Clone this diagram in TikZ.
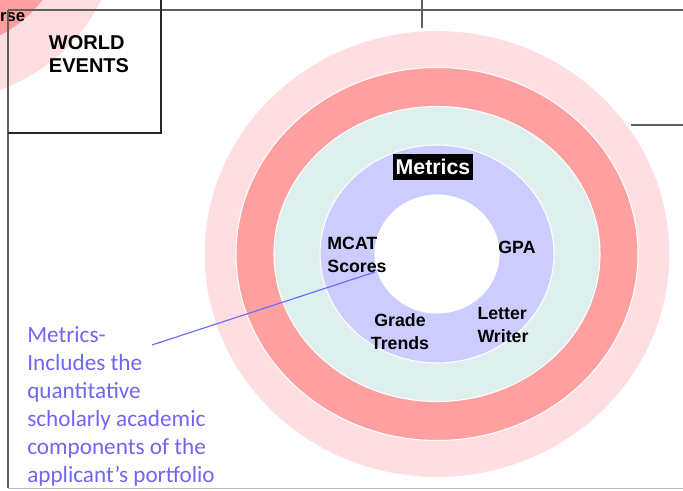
\documentclass[tikz,border=0pt]{standalone}
\usepackage{fontspec}
\setmainfont{Liberation Sans}
\newfontfamily\calib{Carlito}
\definecolor{ringPink}{RGB}{255,222,225}
\definecolor{ringRed}{RGB}{255,160,160}
\definecolor{ringTeal}{RGB}{222,240,238}
\definecolor{ringLav}{RGB}{204,204,255}
\definecolor{noteBlue}{RGB}{112,102,240}
\definecolor{lineBlue}{RGB}{110,110,255}
\definecolor{frameGray}{RGB}{95,95,95}
\definecolor{lightGray}{RGB}{190,190,190}
\begin{document}
\begin{tikzpicture}[x=0.75pt,y=-0.75pt,
  ring/.style={draw=white,line width=0.8pt},
  frame/.style={draw=frameGray,line width=1.2pt},
  boxline/.style={draw=black!85,line width=1.5pt},
  lab/.style={font=\bfseries\fontsize{13.3}{17.3}\selectfont,inner sep=0pt},
  note/.style={font=\calib\fontsize{17.4}{21}\selectfont,text=noteBlue,inner sep=0pt,align=left},
  tag/.style={font=\bfseries\fontsize{16}{19}\selectfont,fill=black,text=white,inner xsep=2pt,inner ysep=4pt}]
\useasboundingbox (0,0) rectangle (683,491);
\clip (0,0) rectangle (683,491);
% partial circle at top left
\fill[ringPink] (-60,-80) circle[radius=180];
\fill[ringRed] (-60,-80) circle[radius=130];
\node[font=\bfseries\fontsize{12.5}{14}\selectfont,inner sep=0pt,anchor=base east] (univ) at (25.5,22) {Universe};
% main concentric rings
\filldraw[ring,fill=ringPink] (437,254) ellipse[x radius=233,y radius=223.5];
\filldraw[ring,fill=ringRed] (437,254) ellipse[x radius=201,y radius=186.5];
\filldraw[ring,fill=ringTeal] (437,254) ellipse[x radius=163,y radius=147.5];
\filldraw[ring,fill=ringLav] (437,254) ellipse[x radius=117,y radius=109];
\filldraw[ring,fill=white] (437,254) ellipse[x radius=62,y radius=59];
% frame lines
\draw[frame] (8,10) -- (683,10);
\draw[frame] (8,10) -- (8,488);
\draw[draw=lightGray,line width=1pt] (8,488.5) -- (683,488.5);
\draw[frame] (422,0) -- (422,28);
\draw[frame] (631,125) -- (683,125);
% world events box
\draw[boxline] (161,0) -- (161,133) -- (8,133);
\node[font=\bfseries\fontsize{15}{17.5}\selectfont,align=left,inner sep=0pt] (world) at (89,54) {WORLD\\EVENTS};
% labels
\node[tag] (metrics) at (433,167) {Metrics};
\node[lab,align=left] (mcat) at (357,255) {MCAT\\Scores};
\node[lab] (gpa) at (517,247) {GPA};
\node[lab,align=left] (letter) at (503,325) {Letter\\Writer};
\node[lab,align=center] (grade) at (400,332) {Grade\\Trends};
% note
\node[note,anchor=base west] (notetext) at (27,483) {Metrics-\\Includes the\\quantitative\\scholarly academic\\components of the\\applicant’s portfolio};
\coordinate (noteend) at (152,345);
\coordinate (mcatend) at (375,272);
\draw[lineBlue,line width=0.9pt] (noteend) -- (mcatend);
\end{tikzpicture}
\end{document}
